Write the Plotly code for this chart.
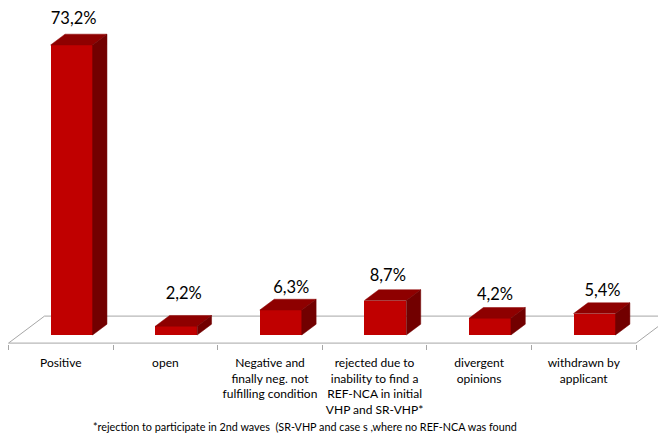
import plotly.graph_objects as go
import numpy as np

categories = [
    "Positive",
    "open",
    "Negative and<br>finally neg. not<br>fulfilling condition",
    "rejected due to<br>inability to find a<br>REF-NCA in initial<br>VHP and SR-VHP*",
    "divergent<br>opinions",
    "withdrawn by<br>applicant",
]
values = [73.2, 2.2, 6.3, 8.7, 4.2, 5.4]
value_labels = ["73,2%", "2,2%", "6,3%", "8,7%", "4,2%", "5,4%"]
footnote = "*rejection to participate in 2nd waves \u00a0(SR-VHP and case s ,where no REF-NCA was found"

# per-label placement nudges (pixels): height of label anchor above bar top, horizontal shift
label_rise_px = [14.5, 21, 10.5, 12.5, 12, 11]
label_shift_px = [2, 7.5, 10.5, 2.5, 5, 8]

FONT = "Lato"
FRONT = "#C00000"
TOP = "#8E0000"
SIDE = "#720000"
GRID = "#A6A6A6"

PX_PER_Y = 3.962       # pixels per axis unit (y)
PX_PER_X = 104.67      # pixels per axis unit (x)

# oblique projection of the depth direction (per unit depth, in axis units)
DDX = 0.344
DDY = 6.815
D0, D1 = 0.3, 0.7      # bar depth span inside the floor
BAR_W = 0.401

n = len(values)
xs = np.arange(n)
xl = xs + D0 * DDX - BAR_W / 2
xr = xs + D0 * DDX + BAR_W / 2
bdx = (D1 - D0) * DDX
bdy = (D1 - D0) * DDY
floor_y = -D0 * DDY

fig = go.Figure()

# floor (as a shape below the traces)
fx = [-0.5, n - 0.5, n - 0.5 + DDX, -0.5 + DDX]
fy = [floor_y, floor_y, floor_y + DDY, floor_y + DDY]
path = "M {} {} L {} {} L {} {} L {} {} Z".format(fx[0], fy[0], fx[1], fy[1], fx[2], fy[2], fx[3], fy[3])
fig.add_shape(type="path", path=path, xref="x", yref="y", layer="below",
              fillcolor="white", line=dict(color=GRID, width=1))

# front faces
fig.add_trace(go.Bar(x=xs + D0 * DDX, y=values, width=BAR_W, base=0,
                     marker=dict(color=FRONT, line=dict(width=0)), showlegend=False,
                     hoverinfo="skip"))

# top and side faces
for i, v in enumerate(values):
    fig.add_trace(go.Scatter(
        x=[xl[i], xr[i], xr[i] + bdx, xl[i] + bdx, xl[i]],
        y=[v, v, v + bdy, v + bdy, v],
        fill="toself", fillcolor=TOP, mode="lines", line=dict(color=TOP, width=0.5),
        showlegend=False, hoverinfo="skip"))
    fig.add_trace(go.Scatter(
        x=[xr[i], xr[i] + bdx, xr[i] + bdx, xr[i], xr[i]],
        y=[0, bdy, v + bdy, v, 0],
        fill="toself", fillcolor=SIDE, mode="lines", line=dict(color=SIDE, width=0.5),
        showlegend=False, hoverinfo="skip"))

# value labels
lab_x = [xs[i] + D0 * DDX + label_shift_px[i] / PX_PER_X for i in range(n)]
lab_y = [values[i] + bdy + label_rise_px[i] / PX_PER_Y for i in range(n)]
fig.add_trace(go.Scatter(
    x=lab_x, y=lab_y,
    mode="text", text=value_labels, textposition="middle center",
    textfont=dict(family=FONT, size=16.5, color="#000000"),
    cliponaxis=False, showlegend=False, hoverinfo="skip"))

fig.add_annotation(text=footnote, xref="paper", yref="paper", x=0.4514, y=-0.245,
                   showarrow=False, font=dict(family=FONT, size=10.8, color="#000000"),
                   xanchor="center", yanchor="middle")

fig.update_layout(
    width=658, height=430,
    margin=dict(l=0, r=0, t=0, b=94),
    paper_bgcolor="white", plot_bgcolor="white",
    font=dict(family=FONT, size=12, color="#000000"),
    bargap=0,
)
fig.update_xaxes(
    range=[-0.505, 5.7866], tickmode="array", tickvals=list(xs), ticktext=categories,
    ticks="", showgrid=False, zeroline=False, showline=False,
    ticklabelstandoff=10,
    tickfont=dict(family=FONT, size=12, color="#000000"),
    minor=dict(tickmode="array", tickvals=[i - 0.5 for i in range(n + 1)],
               ticks="outside", ticklen=5, tickcolor=GRID, tickwidth=1, showgrid=False),
)
fig.update_yaxes(range=[-2.272, 82.53], visible=False)

fig.write_html("out.html")
